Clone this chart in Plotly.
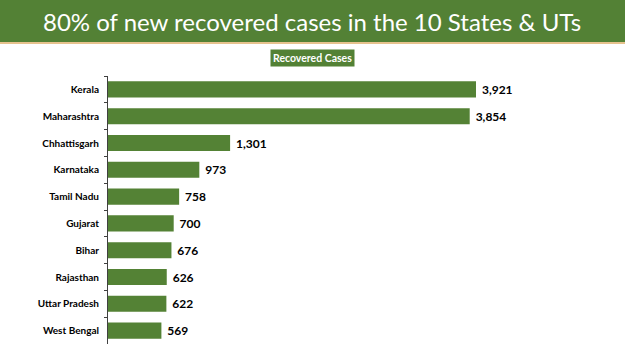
import plotly.graph_objects as go

states = ["Kerala", "Maharashtra", "Chhattisgarh", "Karnataka", "Tamil Nadu",
          "Gujarat", "Bihar", "Rajasthan", "Uttar Pradesh", "West Bengal"]
recovered = [3921, 3854, 1301, 973, 758, 700, 676, 626, 622, 569]
title_text = "80% of new recovered cases in the 10 States & UTs"
series_name = "Recovered Cases"

W, H = 625, 351
L, R, T, B = 108, 25, 76, 7
PW, PH = W - L - R, H - T - B

def px(x):
    return (x - L) / PW

def py(y):
    return (H - B - y) / PH

HEADER = "#538135"
BAR = "#548235"

fig = go.Figure(go.Bar(
    x=recovered, y=states, orientation="h",
    marker=dict(color=BAR, line=dict(width=0)),
    width=0.6,
    text=recovered, texttemplate=" %{x:,}", textposition="outside",
    textfont=dict(family="Lato", size=12, color="#000000", weight="bold"),
    cliponaxis=False, name=series_name,
))

fig.update_layout(
    width=W, height=H, margin=dict(l=L, r=R, t=T, b=B),
    paper_bgcolor="white", plot_bgcolor="white", showlegend=False,
    xaxis=dict(range=[0, 3921 * PW / 368], visible=False, fixedrange=True),
    yaxis=dict(
        categoryorder="array", categoryarray=states, autorange="reversed",
        showline=True, linecolor="#404040", linewidth=1,
        ticks="outside", ticklen=3, tickcolor="#404040", tickson="boundaries",
        tickfont=dict(family="Lato", size=10, color="#000000", weight="bold"),
        ticklabelstandoff=6, showgrid=False, zeroline=False,
    ),
    shapes=[
        dict(type="rect", xref="paper", yref="paper", x0=px(0), x1=px(W),
             y0=py(42), y1=py(0), fillcolor=HEADER, line=dict(width=0), layer="below"),
        dict(type="rect", xref="paper", yref="paper", x0=px(0), x1=px(W),
             y0=py(44), y1=py(42), fillcolor="#E6C28E", line=dict(width=0), layer="below"),
    ],
    annotations=[
        dict(text=title_text, xref="paper", yref="paper", x=px(312), y=py(22),
             xanchor="center", yanchor="middle", showarrow=False,
             font=dict(family="Lato", size=24, color="white")),
        dict(text=series_name, xref="paper", yref="paper", x=px(312.5), y=py(57.5),
             xanchor="center", yanchor="middle", showarrow=False,
             bgcolor=HEADER, borderpad=2,
             font=dict(family="Lato", size=10.5, color="white", weight="bold")),
    ],
)

fig.write_html("out.html")
